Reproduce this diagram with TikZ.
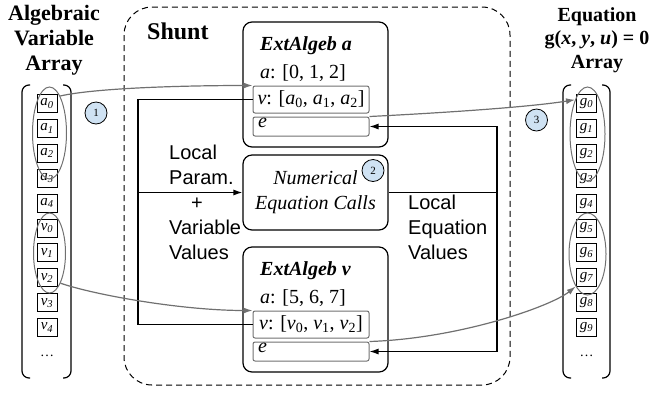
\documentclass[tikz,border=0pt]{standalone}
\usepackage{fontspec}
\setmainfont{Liberation Serif}
\setsansfont{Liberation Sans}
\usetikzlibrary{shapes.geometric,arrows.meta}

\definecolor{numblue}{HTML}{CFE2F3}
\definecolor{linkgray}{HTML}{707070}

\newcommand{\cv}[2]{#1\textsubscript{#2}}

\tikzstyle{cell} = [rectangle, draw, line width=1pt, minimum width=20pt,
    minimum height=18pt, inner sep=0pt, font=\fontsize{15}{15}\selectfont\itshape]
\tikzstyle{group} = [ellipse, draw=linkgray, line width=1pt, inner sep=0pt]
\tikzstyle{block} = [rectangle, draw, rounded corners=9pt, line width=1.2pt,
    minimum width=145pt]
\tikzstyle{field} = [rectangle, draw=linkgray, rounded corners=2pt, line width=1pt,
    minimum width=116pt, inner xsep=3pt, inner ysep=0pt,
    font=\fontsize{20}{20}\selectfont]
\tikzstyle{marker} = [circle, draw, fill=numblue, line width=0.8pt, minimum size=22pt,
    inner sep=0pt, font=\fontsize{11}{11}\selectfont]
\tikzstyle{header} = [font=\bfseries, align=center, inner sep=0pt]
\tikzstyle{remark} = [font=\fontsize{20}{25}\selectfont\sffamily, align=left, inner sep=0pt]
\tikzstyle{flow} = [line width=1.2pt]
\tikzstyle{flowarrow} = [flow, -{Latex[length=9pt,width=6pt]}]
\tikzstyle{gather} = [draw=linkgray, line width=1.2pt, -{Latex[length=9pt,width=6pt]}]

\begin{document}
\begin{tikzpicture}[x=1pt,y=1pt]
	\useasboundingbox (0,0) rectangle (652,-392);
	% algebraic variable array
	\node [header, anchor=north, font=\fontsize{22}{25}\selectfont\bfseries]
		(alghead) at (54,-5) {Algebraic\\Variable\\Array};
	\draw [flow, rounded corners=7pt] (30,-85) -- (22,-85) -- (22,-378) -- (30,-378);
	\draw [flow, rounded corners=7pt] (63,-85) -- (71,-85) -- (71,-378) -- (63,-378);
	\node [cell] (la0) at (47,-103.5) {\cv{a}{0}};
	\node [cell] (la1) at (47,-128.4) {\cv{a}{1}};
	\node [cell] (la2) at (47,-153.3) {\cv{a}{2}};
	\node [cell] (la3) at (47,-178.2) {\cv{a}{3}};
	\node [cell] (la4) at (47,-203.1) {\cv{a}{4}};
	\node [cell] (lv0) at (47,-228.0) {\cv{v}{0}};
	\node [cell] (lv1) at (47,-252.9) {\cv{v}{1}};
	\node [cell] (lv2) at (47,-277.8) {\cv{v}{2}};
	\node [cell] (lv3) at (47,-302.7) {\cv{v}{3}};
	\node [cell] (lv4) at (47,-327.6) {\cv{v}{4}};
	\node [font=\fontsize{14}{14}\selectfont] (ldots) at (47,-356) {\ldots};
	\node [group, minimum width=34pt, minimum height=92pt] (e1) at (49.5,-133) {};
	\node [group, minimum width=32pt, minimum height=80pt] (e2) at (49.5,-253) {};
	%
	% equation array
	\node [header, anchor=north, font=\fontsize{20}{23.5}\selectfont\bfseries]
		(eqhead) at (597,-7) {Equation\\g(\textit{x}, \textit{y}, \textit{u}) = 0\\Array};
	\draw [flow, rounded corners=7pt] (571,-85) -- (563,-85) -- (563,-378) -- (571,-378);
	\draw [flow, rounded corners=7pt] (602,-85) -- (610,-85) -- (610,-378) -- (602,-378);
	\node [cell] (g0) at (586.5,-103.5) {\cv{g}{0}};
	\node [cell] (g1) at (586.5,-128.4) {\cv{g}{1}};
	\node [cell] (g2) at (586.5,-153.3) {\cv{g}{2}};
	\node [cell] (g3) at (586.5,-178.2) {\cv{g}{3}};
	\node [cell] (g4) at (586.5,-203.1) {\cv{g}{4}};
	\node [cell] (g5) at (586.5,-228.0) {\cv{g}{5}};
	\node [cell] (g6) at (586.5,-252.9) {\cv{g}{6}};
	\node [cell] (g7) at (586.5,-277.8) {\cv{g}{7}};
	\node [cell] (g8) at (586.5,-302.7) {\cv{g}{8}};
	\node [cell] (g9) at (586.5,-327.6) {\cv{g}{9}};
	\node [font=\fontsize{14}{14}\selectfont] (rdots) at (586.5,-356) {\ldots};
	\node [group, minimum width=35pt, minimum height=94pt] (r1) at (587.5,-134) {};
	\node [group, minimum width=37pt, minimum height=82pt] (r2) at (587.5,-254) {};
	%
	% shunt
	\draw [line width=1pt, dash pattern=on 6pt off 4pt, rounded corners=28pt]
		(124,-7) rectangle (510,-385);
	\node [anchor=base west, inner sep=0pt, font=\fontsize{24}{24}\selectfont\bfseries]
		(shunt) at (147,-39) {Shunt};
	%
	\node [block, minimum height=125pt] (exta) at (315.5,-84.5) {};
	\node [anchor=base west, inner sep=0pt, font=\fontsize{20}{20}\selectfont\bfseries\itshape]
		(extaname) at (260,-50) {ExtAlgeb a};
	\node [anchor=base west, inner sep=0pt, font=\fontsize{20}{20}\selectfont]
		(extaaddr) at (260,-78) {\textit{a}: [0, 1, 2]};
	\node [field, minimum height=27pt] (va) at (311,-99.5)
		{\textit{v}: [\textit{a}\textsubscript{0}, \textit{a}\textsubscript{1}, \textit{a}\textsubscript{2}]};
	\node [field, minimum height=19pt] (ea) at (311,-126.5) {};
	\node [anchor=base west, inner sep=0pt, font=\fontsize{20}{20}\selectfont\itshape]
		(eaname) at (258,-127) {e};
	%
	\node [block, minimum height=75pt, align=center, font=\fontsize{20}{25}\selectfont\itshape]
		(num) at (315.5,-192.5) {Numerical\\Equation Calls};
	%
	\node [block, minimum height=125pt] (extv) at (315.5,-309.5) {};
	\node [anchor=base west, inner sep=0pt, font=\fontsize{20}{20}\selectfont\bfseries\itshape]
		(extvname) at (260,-275) {ExtAlgeb v};
	\node [anchor=base west, inner sep=0pt, font=\fontsize{20}{20}\selectfont]
		(extvaddr) at (260,-303) {\textit{a}: [5, 6, 7]};
	\node [field, minimum height=27pt] (vv) at (311,-324.5)
		{\textit{v}: [\textit{v}\textsubscript{0}, \textit{v}\textsubscript{1}, \textit{v}\textsubscript{2}]};
	\node [field, minimum height=19pt] (ev) at (311,-351.5) {};
	\node [anchor=base west, inner sep=0pt, font=\fontsize{20}{20}\selectfont\itshape]
		(evname) at (258,-352) {e};
	%
	\node [remark, anchor=west] (inputs) at (169,-202.5)
		{Local\\Param.\\\hspace*{22pt}+\\Variable\\Values};
	\node [remark, anchor=west] (outputs) at (408,-227.5) {Local\\Equation\\Values};
	%
	\coordinate (lj) at (138,-192.5);
	\coordinate (rj) at (497,-192.5);
	\draw [flow] (va.west) -| (lj);
	\draw [flow] (vv.west) -| (lj);
	\draw [flowarrow] (lj) -- (num.west);
	\draw [flow] (num.east) -- (rj);
	\draw [flowarrow] (rj) |- (ea.east);
	\draw [flowarrow] (rj) |- (ev.east);
	%
	\draw [gather] (e1.74) .. controls +(35,8) and +(-70,0) .. (va.north west);
	\draw [gather] (e2.-70) .. controls +(35,-12) and +(-70,0) .. (vv.north west);
	\draw [gather] (ea.north east) .. controls +(60,3) and +(-50,-8) .. (r1.110);
	\draw [gather] (ev.north east) .. controls +(90,3) and +(-25,-20) .. (r2.250);
	%
	\node [marker] (m1) at (96,-113) {1};
	\node [marker] (m2) at (373,-170.5) {2};
	\node [marker] (m3) at (536.5,-120) {3};
\end{tikzpicture}
\end{document}
